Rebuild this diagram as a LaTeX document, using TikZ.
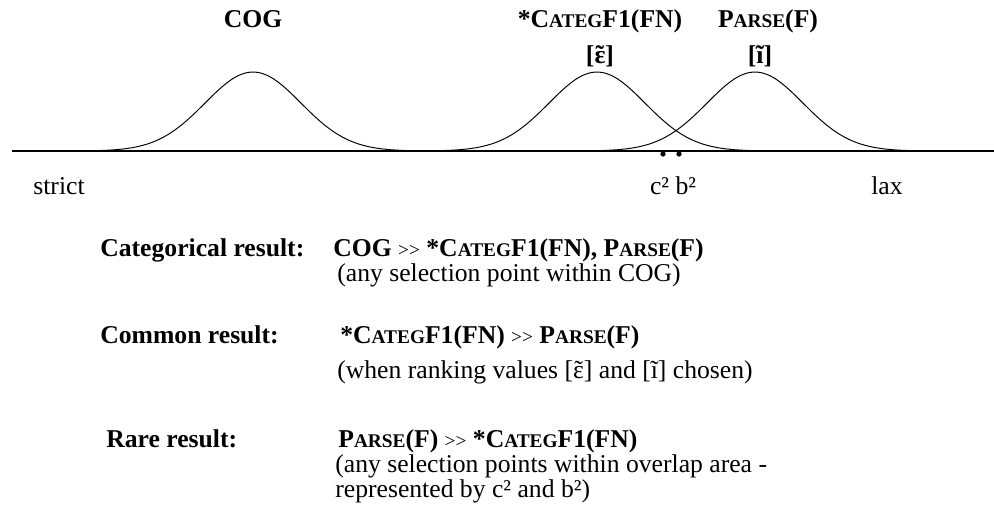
\documentclass[tikz,border=0pt]{standalone}
\usepackage{fontspec}
\setmainfont{Liberation Serif}
\newcommand{\smc}[2]{#1{\fontsize{11}{13}\selectfont #2}}
\newcommand{\Categ}{*\smc{C}{ATEG}F1(FN)}
\newcommand{\Parse}{\smc{P}{ARSE}(F)}
\newcommand{\dom}{ {\fontsize{11}{13}\selectfont\mdseries >{}>} }
\newcommand{\epsnas}{\ooalign{ɛ\cr\hidewidth\char"02DC\hidewidth\cr}}

\begin{document}
\begin{tikzpicture}[x=0.02cm, y=-0.02cm,
  note/.style={font=\fontsize{14.6}{17.5}\selectfont, inner sep=0pt, anchor=base west},
  head/.style={font=\fontsize{14.6}{17.5}\selectfont\bfseries, inner sep=0pt, anchor=base},
  res/.style={font=\fontsize{14.6}{17.5}\selectfont\bfseries, inner sep=0pt, anchor=base west},
  bell/.style={line width=0.55pt},
  dot/.style={circle, fill, inner sep=0pt, minimum size=3pt}]
  \useasboundingbox (0,0) rectangle (994,512);

  % Ranking scale
  \draw[line width=0.85pt] (12,151) -- (994,151);

  % Bell curves
  \foreach \p in {253,597,755}
    \draw[bell] plot[domain=\p-180:\p+180, samples=90, smooth]
      (\x,{151-79*exp(-((\x-\p)/48)^2/2)});

  % Constraint labels
  \node[head] (cog) at (253,27) {COG};
  \node[head] (categ) at (600,27) {\Categ};
  \node[head] (parse) at (768,27) {\Parse};
  \node[head] (eps) at (600,63) {[\epsnas]};
  \node[head] (itil) at (760,63) {[ĩ]};

  % Scale ends and selection points
  \node[note, anchor=base] (strict) at (59,194) {strict};
  \node[note, anchor=base] (lax) at (887,194) {lax};
  \node[note, anchor=base] (cb) at (673,194) {c² b²};
  \node[dot] (c2) at (663,154) {};
  \node[dot] (b2) at (679,154) {};

  % Results
  \node[res] (catres) at (100,256) {Categorical result:};
  \node[res] (catrank) at (333,256) {COG\dom\Categ, \Parse};
  \node[note] (catnote) at (337,281) {(any selection point within COG)};
  \node[res] (comres) at (100,343) {Common result:};
  \node[res] (comrank) at (340,343) {\Categ\dom\Parse};
  \node[note] (comnote) at (337,378) {(when ranking values [\epsnas] and [ĩ] chosen)};
  \node[res] (rareres) at (106,447) {Rare result:};
  \node[res] (rarerank) at (338,447) {\Parse\dom\Categ};
  \node[note] (rarenote) at (335,472) {(any selection points within overlap area -};
  \node[note] (rarenote2) at (335,497) {represented by c² and b²)};
\end{tikzpicture}
\end{document}
